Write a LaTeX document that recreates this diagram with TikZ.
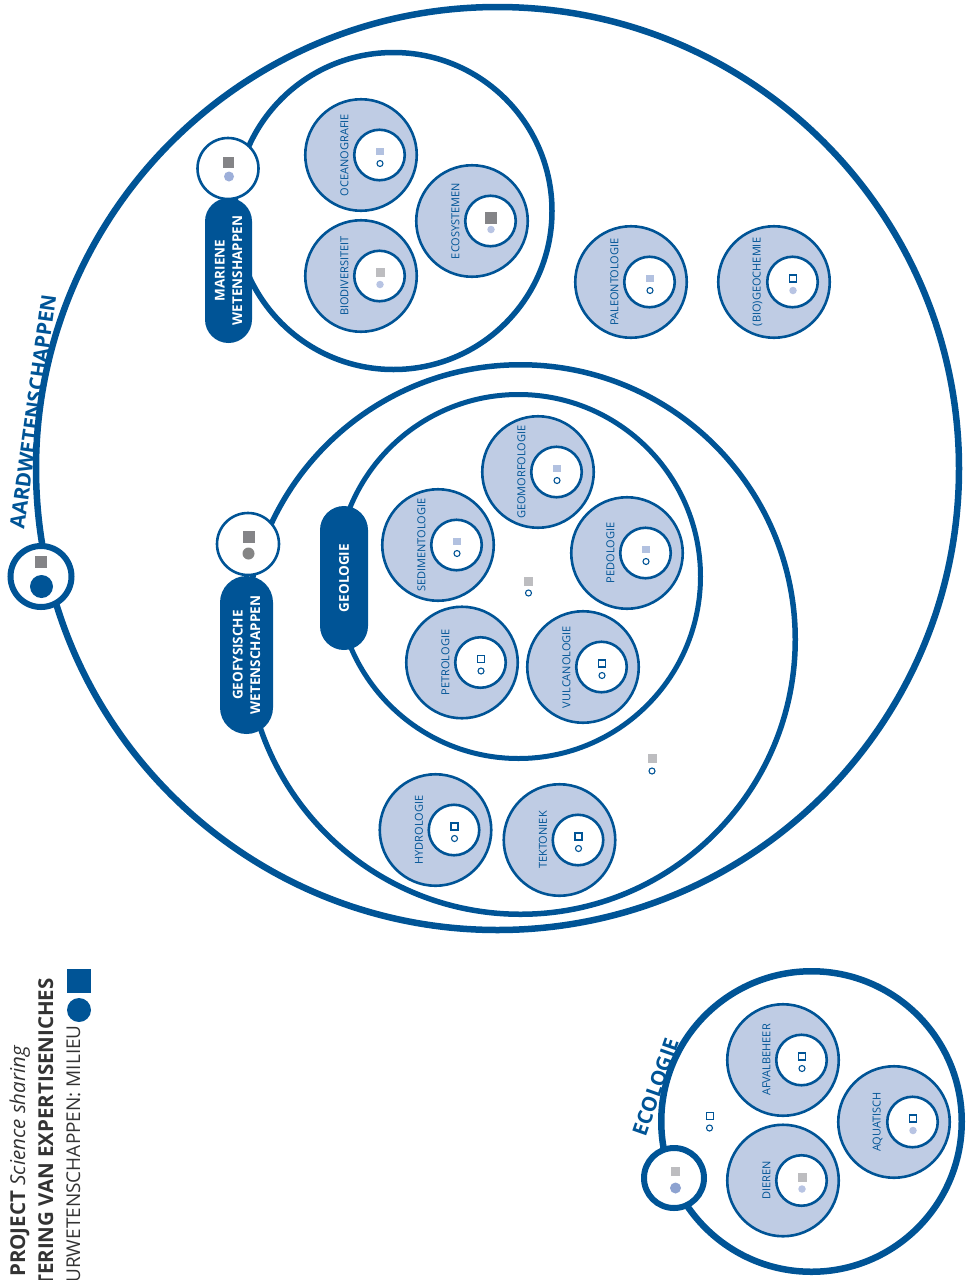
\documentclass[tikz,border=0pt]{standalone}
\usepackage{fontspec}
\setmainfont{Open Sans}
\usetikzlibrary{calc}
\definecolor{dblue}{HTML}{005496}
\definecolor{lfill}{HTML}{BFCCE4}
\definecolor{lbsqc}{HTML}{B2C1E0}
\definecolor{lbdotc}{HTML}{B8C4E3}
\definecolor{lgray}{HTML}{BDBDC0}
\definecolor{dgray}{HTML}{848487}
\definecolor{mgraydot}{HTML}{858585}
\definecolor{lavdot}{HTML}{8DA2D0}
\definecolor{mardot}{HTML}{9DAFD9}
\definecolor{legtext}{HTML}{333333}
\newcommand\subjcirc[6]{%
  \node[subj] (#1) at (#2,#3) {};
  \node[innerc] (#1-in) at ($(#1)+(18.5,0)$) {};
  \node[lbl] (#1-lbl) at ($(#1)+(-16.5,0)$) {#4};
  \node[#5] (#1-sq) at ($(#1-in)+(0.5,-3.5)$) {};
  \node[#6] (#1-dot) at ($(#1-in)+(0.5,8.5)$) {};
}
\begin{document}
\begin{tikzpicture}[x=1pt,y=-1pt,
  bigring/.style={circle, draw=dblue, inner sep=0, line width=6.5},
  midring/.style={circle, draw=dblue, inner sep=0, line width=5.5},
  subj/.style={circle, draw=dblue, fill=lfill, line width=2.6, minimum size=111.5, inner sep=0},
  innerc/.style={circle, draw=dblue, fill=white, line width=2.6, minimum size=50.5, inner sep=0},
  lbl/.style={rotate=90, inner sep=0, text=dblue, font=\fontsize{11}{12}\selectfont},
  hub/.style={circle, draw=dblue, fill=white, line width=2.6, minimum size=61, inner sep=0},
  bighub/.style={circle, draw=dblue, fill=white, line width=6, minimum size=61, inner sep=0},
  pill/.style={rectangle, fill=dblue, text=white, rotate=90, align=center, inner sep=0,
    font=\bfseries\fontsize{13.5}{17.5}\selectfont},
  lbsq/.style={rectangle, fill=lbsqc, minimum size=7.5, inner sep=0},
  gsq/.style={rectangle, fill=lgray, minimum size=9, inner sep=0},
  dgsq/.style={rectangle, fill=dgray, minimum size=12, inner sep=0},
  osq/.style={rectangle, draw=dblue, fill=white, line width=1.1, minimum size=7, inner sep=0},
  ocirc/.style={circle, draw=dblue, fill=white, line width=1.1, minimum size=6, inner sep=0},
  lbdot/.style={circle, fill=lbdotc, minimum size=7.5, inner sep=0},
  biglabel/.style={inner sep=0, text=dblue, font=\bfseries\fontsize{20.5}{22}\selectfont},
  legend/.style={inner sep=0, rotate=90, text=legtext}
]
\useasboundingbox (0,0) rectangle (966,1280);
\clip (0,0) rectangle (966,1280);

% big rings
\node[bigring, minimum size=923] (aard) at (497.5,468.5) {};
\node[bigring, minimum size=300.5] (ecol) at (811.5,1121.5) {};
\node[midring, minimum size=317] (mariene) at (393.5,211) {};
\node[midring, minimum size=549.5] (geofys) at (520.5,639.5) {};
\node[midring, line width=5, minimum size=364] (geologie) at (518.5,576.5) {};

% pills
\node[pill, minimum width=145, minimum height=47, rounded corners=23.5] (marpill) at (228.5,270.5) {MARIENE\\WETENSHAPPEN};
\node[pill, minimum width=158, minimum height=53, rounded corners=26.5] (geofpill) at (246.5,655) {GEOFYSISCHE\\WETENSCHAPPEN};
\node[pill, minimum width=144, minimum height=48, rounded corners=24] (geolpill) at (344,578) {GEOLOGIE};

% hubs
\node[bighub] (aardhub) at (41,576.5) {};
\node[dgsq] (aardhub-sq) at ($(aardhub)+(0,-15)$) {};
\node[circle, fill=dblue, minimum size=23, inner sep=0] (aardhub-dot) at ($(aardhub)+(0.5,10)$) {};

\node[bighub, minimum size=60] (ecohub) at (674,1178) {};
\node[gsq] (ecohub-sq) at ($(ecohub)+(1.5,-6.5)$) {};
\node[circle, fill=lavdot, minimum size=11, inner sep=0] (ecohub-dot) at ($(ecohub)+(1.5,10)$) {};

\node[hub] (marhub) at (228,168.5) {};
\node[dgsq, minimum size=11] (marhub-sq) at ($(marhub)+(0.5,-6.5)$) {};
\node[circle, fill=mardot, minimum size=10, inner sep=0] (marhub-dot) at ($(marhub)+(1,8)$) {};

\node[hub, minimum size=62] (geohub) at (248,544) {};
\node[dgsq] (geohub-sq) at ($(geohub)+(1,-7)$) {};
\node[circle, fill=mgraydot, minimum size=12, inner sep=0] (geohub-dot) at ($(geohub)+(0.5,9.5)$) {};

% subject circles
\subjcirc{ocean}{361}{155}{OCEANOGRAFIE}{lbsq}{ocirc}
\subjcirc{ecosys}{472}{221}{ECOSYSTEMEN}{dgsq}{lbdot}
\subjcirc{biodiv}{361}{276}{BIODIVERSITEIT}{gsq}{lbdot}
\subjcirc{paleo}{631}{282}{PALEONTOLOGIE}{lbsq}{ocirc}
\subjcirc{biogeo}{774}{282}{(BIO)GEOCHEMIE}{osq}{lbdot}
\subjcirc{geomorf}{538}{472}{GEOMORFOLOGIE}{lbsq}{ocirc}
\subjcirc{sedi}{438}{545}{SEDIMENTOLOGIE}{lbsq}{ocirc}
\subjcirc{pedo}{627}{553}{PEDOLOGIE}{lbsq}{ocirc}
\subjcirc{petro}{462}{662.5}{PETROLOGIE}{osq}{ocirc}
\subjcirc{vulc}{583}{667}{VULCANOLOGIE}{osq}{ocirc}
\subjcirc{hydro}{435.5}{830}{HYDROLOGIE}{osq}{ocirc}
\subjcirc{tekt}{559.5}{840}{TEKTONIEK}{osq}{ocirc}
\subjcirc{afval}{783}{1060}{AFVALBEHEER}{osq}{ocirc}
\subjcirc{aqua}{894}{1122}{AQUATISCH}{osq}{lbdot}
\subjcirc{dieren}{783}{1180.5}{DIEREN}{gsq}{lbdot}

% free markers
\node[gsq] (geol-sq) at (528.5,581) {};
\node[ocirc] (geol-dot) at (528.5,593) {};
\node[gsq] (geof-sq) at (652.5,758.5) {};
\node[ocirc] (geof-dot) at (652,771) {};
\node[osq] (ecol-sq) at (710,1116) {};
\node[ocirc] (ecol-dot) at (709.5,1128) {};

% big labels
\node[biglabel, rotate=82.2] (aardlbl) at (33,412) {AARDWETENSCHAPPEN};
\node[biglabel, rotate=70.7] (ecollbl) at (655.5,1087) {ECOLOGIE};

% legend
\node[legend, anchor=base west, font=\bfseries\fontsize{20.5}{22}\selectfont] (leg1) at (25,1277) {PROJECT \textit{\mdseries Science sharing}};
\node[legend, anchor=base east, font=\bfseries\fontsize{20.5}{22}\selectfont] (leg2) at (53,978) {TERING VAN EXPERTISENICHES};
\node[legend, anchor=base east, font=\fontsize{19}{21}\selectfont] (leg3) at (80,1025) {URWETENSCHAPPEN: MILIEU};
\node[circle, fill=dblue, minimum size=24, inner sep=0] (legdot) at (79,1010) {};
\node[rectangle, fill=dblue, minimum size=24, inner sep=0] (legsq) at (79,981) {};
\end{tikzpicture}
\end{document}
